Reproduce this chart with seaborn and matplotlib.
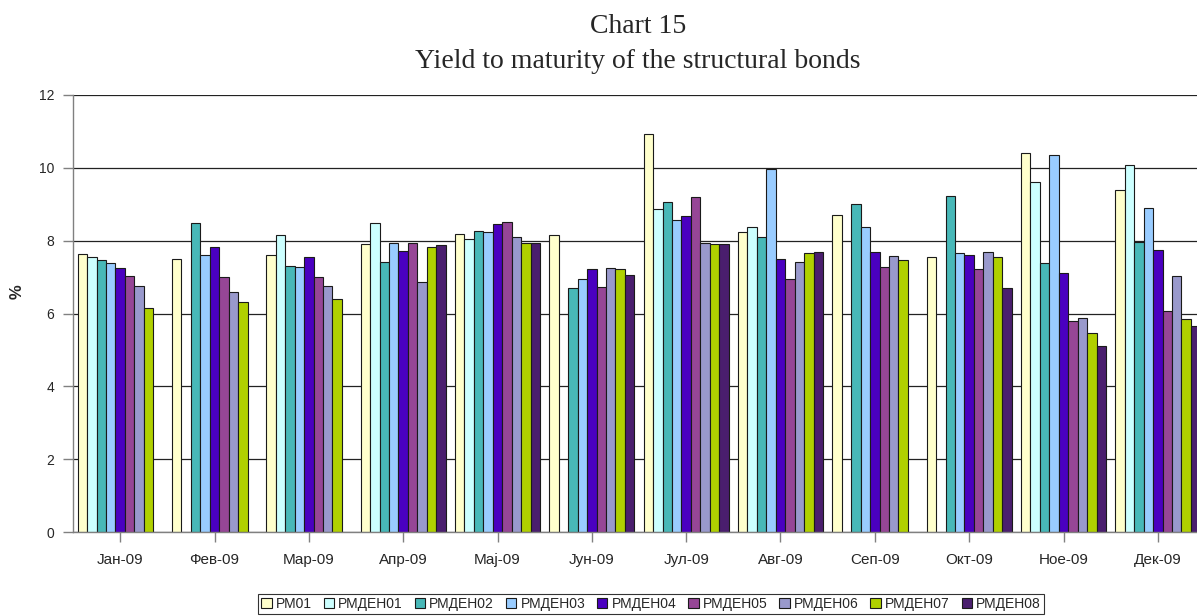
import numpy as np
import pandas as pd
import matplotlib
matplotlib.use("Agg")
import matplotlib.pyplot as plt
import seaborn as sns

sns.set_theme(style="white")
plt.rcParams["font.family"] = ["Liberation Sans", "DejaVu Sans"]

nan = np.nan
months = ["Јан-09", "Фев-09", "Мар-09", "Апр-09", "Мај-09", "Јун-09",
          "Јул-09", "Авг-09", "Сеп-09", "Окт-09", "Ное-09", "Дек-09"]
series = ["РМ01", "РМДЕН01", "РМДЕН02", "РМДЕН03", "РМДЕН04",
          "РМДЕН05", "РМДЕН06", "РМДЕН07", "РМДЕН08"]

rm01    = [7.64, 7.51, 7.62, 7.91, 8.18, 8.15, 10.92, 8.23, 8.70, 7.56, 10.40, 9.40]
rmden01 = [7.56, nan, 8.15, 8.49, 8.05, nan, 8.86, 8.37, nan, nan, 9.61, 10.08]
rmden02 = [7.46, 8.48, 7.31, 7.41, 8.26, 6.69, 9.07, 8.11, 9.02, 9.24, 7.40, 7.95]
rmden03 = [7.39, 7.61, 7.28, 7.94, 8.23, 6.94, 8.57, 9.97, 8.37, 7.65, 10.34, 8.91]
rmden04 = [7.26, 7.82, 7.54, 7.71, 8.46, 7.21, 8.68, 7.50, 7.68, 7.60, 7.11, 7.73]
rmden05 = [7.02, 7.01, 6.99, 7.93, 8.52, 6.73, 9.21, 6.95, 7.29, 7.21, 5.79, 6.08]
rmden06 = [6.75, 6.59, 6.75, 6.86, 8.10, 7.24, 7.93, 7.42, 7.57, 7.68, 5.88, 7.02]
rmden07 = [6.16, 6.31, 6.40, 7.82, 7.94, 7.21, 7.92, 7.67, 7.48, 7.55, 5.47, 5.84]
rmden08 = [nan, nan, nan, 7.89, 7.93, 7.07, 7.90, 7.69, nan, 6.70, 5.12, 5.66]

values = [rm01, rmden01, rmden02, rmden03, rmden04, rmden05, rmden06, rmden07, rmden08]
colors = ["#FFFFCC", "#CCFFFF", "#48B8B8", "#99CCFF", "#4A00C0",
          "#964696", "#9999CC", "#B0D000", "#4A1E6E"]
palette = dict(zip(series, colors))

rows = []
for s, vals in zip(series, values):
    for m, v in zip(months, vals):
        rows.append({"month": m, "series": s, "value": v})
df = pd.DataFrame(rows).dropna()

fig = plt.figure(figsize=(11.97, 6.16), dpi=100)
ax = fig.add_axes([73 / 1197, 1 - 532 / 616, (1205 - 73) / 1197, (532 - 95) / 616])

sns.barplot(data=df, x="month", y="value", hue="series", order=months,
            hue_order=series, palette=palette, width=0.9, gap=0,
            saturation=1, edgecolor="#1a1a1a", linewidth=0.8,
            errorbar=None, ax=ax)

ax.set_xlim(-0.5, 11.5)
ax.set_ylim(0, 12)
ax.set_yticks(np.arange(0, 13, 2))
ax.yaxis.grid(True, color="#222222", linewidth=0.9)
ax.set_axisbelow(True)
for sp in ["top", "right"]:
    ax.spines[sp].set_visible(False)
for sp in ["left", "bottom"]:
    ax.spines[sp].set_color("#808080")
    ax.spines[sp].set_linewidth(1.0)
ax.tick_params(axis="x", direction="out", length=7, width=1, color="#808080",
               pad=8, labelsize=11, bottom=True)
ax.tick_params(axis="y", direction="out", length=7.5, width=1, color="#808080",
               pad=6, labelsize=10, left=True)
ax.set_xlabel("")
ax.set_ylabel("")

fig.text(17 / 1197, 1 - 292 / 616, "%", rotation=90, fontsize=12,
         fontweight="bold", ha="center", va="center")

title_kw = dict(family=["Liberation Serif", "DejaVu Serif"], fontsize=20,
                ha="center", va="baseline")
fig.text(638 / 1197, 1 - 33 / 616, "Chart 15", **title_kw)
fig.text(638 / 1197, 1 - 68 / 616, "Yield to maturity of the structural bonds", **title_kw)

handles, labels = ax.get_legend_handles_labels()
if ax.get_legend() is not None:
    ax.get_legend().remove()
leg = fig.legend(handles, labels, loc="center", bbox_to_anchor=(651 / 1197, 1 - 604 / 616),
                 ncol=9, frameon=True, fancybox=False, edgecolor="black",
                 handlelength=0.75, handleheight=0.75, handletextpad=0.3,
                 columnspacing=0.85, borderpad=0.25, borderaxespad=0,
                 prop={"family": ["Liberation Sans", "DejaVu Sans"], "size": 10})
leg.get_frame().set_linewidth(0.8)

fig.savefig("out.png", dpi=100)
